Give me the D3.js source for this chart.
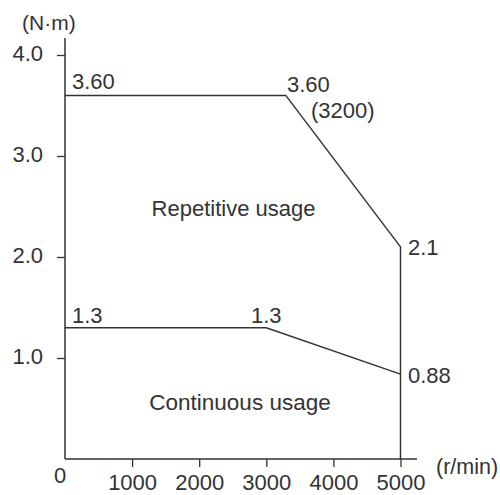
<!DOCTYPE html>
<html>
<head>
<meta charset="utf-8">
<script src="https://cdn.jsdelivr.net/npm/d3@7"></script>
<style>
  body { margin: 0; background: #fff; }
  text { font-family: "Liberation Sans", Arial, sans-serif; fill: #333; }
</style>
</head>
<body>
<div id="chart"></div>
<script>
const width = 500;
const height = 495;

// speed (r/min) vs torque (N·m)
const repetitiveSpeed = [0, 3290, 5000, 5000];
const repetitiveTorque = [3.6, 3.6, 2.1, 0];
const continuousSpeed = [0, 3000, 5000];
const continuousTorque = [1.3, 1.3, 0.84];

const xTicks = [1000, 2000, 3000, 4000, 5000];
const yTicks = [1, 2, 3, 4];

const x = d3.scaleLinear().domain([0, 5000]).range([65, 400.5]);
const y = d3.scaleLinear().domain([0, 4]).range([459, 55]);

const svg = d3.select("#chart")
  .append("svg")
  .attr("width", width)
  .attr("height", height);

const ink = "#333";
const fs = "22px";

// y axis
const yAxis = svg.append("g")
  .attr("transform", `translate(${x(0)},0)`)
  .call(d3.axisLeft(y).tickValues(yTicks).tickFormat(d3.format(".1f"))
    .tickSize(8).tickPadding(14).tickSizeOuter(0));
yAxis.select(".domain").remove();
yAxis.selectAll("line").attr("stroke", ink).attr("stroke-width", 1.3);
yAxis.selectAll("text").style("font-size", fs).attr("fill", ink).attr("dy", "0.26em")
  .style("font-family", "'Liberation Sans', Arial, sans-serif");

// x axis
const xAxis = svg.append("g")
  .attr("transform", `translate(0,${y(0)})`)
  .call(d3.axisBottom(x).tickValues(xTicks).tickFormat(d3.format("d"))
    .tickSize(8).tickPadding(7).tickSizeOuter(0));
xAxis.select(".domain").remove();
xAxis.selectAll("line").attr("stroke", ink).attr("stroke-width", 1.3);
xAxis.selectAll("text").style("font-size", fs).attr("fill", ink)
  .style("font-family", "'Liberation Sans', Arial, sans-serif");

// axis lines, a bit past the ends
svg.append("line")
  .attr("x1", x(0)).attr("x2", x(0))
  .attr("y1", y(0)).attr("y2", 38)
  .attr("stroke", ink).attr("stroke-width", 1.5);
svg.append("line")
  .attr("x1", x(0)).attr("x2", 417)
  .attr("y1", y(0)).attr("y2", y(0))
  .attr("stroke", ink).attr("stroke-width", 1.5);

svg.append("text").attr("x", 60).attr("y", 483)
  .attr("text-anchor", "middle").style("font-size", fs).text("0");
svg.append("text").attr("x", 22).attr("y", 30)
  .style("font-size", "21px").text("(N·m)");
svg.append("text").attr("x", 436).attr("y", 474)
  .style("font-size", "21.5px").text("(r/min)");

// curves
const line = d3.line().x(d => x(d[0])).y(d => y(d[1]));
const repetitive = d3.zip(repetitiveSpeed, repetitiveTorque);
const continuous = d3.zip(continuousSpeed, continuousTorque);

svg.append("path").datum(repetitive)
  .attr("d", line).attr("fill", "none")
  .attr("stroke", ink).attr("stroke-width", 1.5);
svg.append("path").datum(continuous)
  .attr("d", line).attr("fill", "none")
  .attr("stroke", ink).attr("stroke-width", 1.5);

// annotations
const notes = [
  { t: "3.60", x: 72, y: 89 },
  { t: "3.60", x: 287, y: 92 },
  { t: "(3200)", x: 311, y: 118 },
  { t: "2.1", x: 408, y: 255 },
  { t: "1.3", x: 72, y: 323 },
  { t: "1.3", x: 251, y: 323 },
  { t: "0.88", x: 408, y: 383 }
];
svg.append("g").selectAll("text")
  .data(notes)
  .join("text")
  .attr("x", d => d.x)
  .attr("y", d => d.y)
  .style("font-size", fs)
  .text(d => d.t);

svg.append("text").attr("x", 233.5).attr("y", 216)
  .attr("text-anchor", "middle").style("font-size", fs).text("Repetitive usage");
svg.append("text").attr("x", 240).attr("y", 410)
  .attr("text-anchor", "middle").style("font-size", "22.5px").text("Continuous usage");
</script>
</body>
</html>
